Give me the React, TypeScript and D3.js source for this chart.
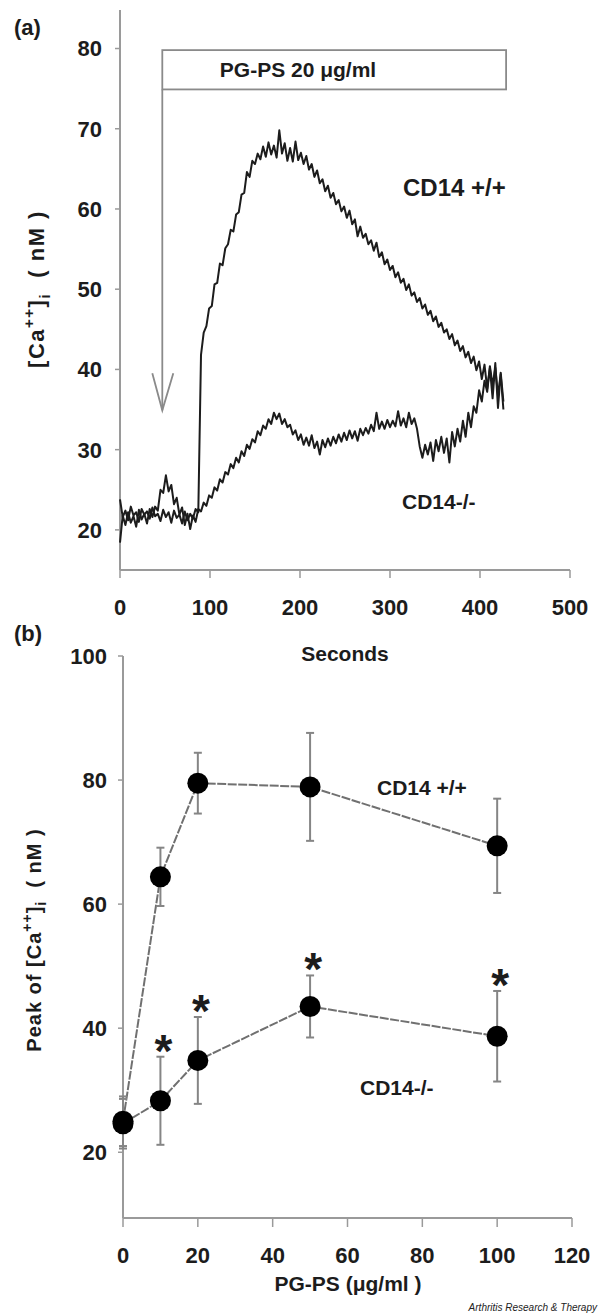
import React from "react";
import * as d3 from "d3";

// ---------- Panel (a): time course, sampled every SAMPLE_STEP seconds ----------
const SAMPLE_STEP = 3;

const wildTypeTrace = [
  23.8, 21.6, 22.4, 21.2, 22.9, 21.8, 22.2, 21.0, 22.6, 21.9,
  22.3, 21.4, 22.8, 21.7, 22.0, 21.1, 22.5, 21.6, 22.2, 20.9,
  22.4, 21.5, 21.9, 20.8, 22.3, 21.2, 22.0, 21.4, 22.6, 22.2,
  41.8, 44.6, 45.4, 47.6, 47.9, 50.6, 50.8, 53.2, 53.0, 55.1,
  55.6, 57.4, 57.2, 59.3, 59.6, 61.8, 62.0, 64.6, 64.0, 66.0,
  65.6, 66.9, 66.2, 67.8, 66.5, 68.3, 66.8, 67.9, 66.4, 69.8,
  66.9, 68.2, 66.0, 67.6, 65.9, 68.4, 66.1, 67.0, 65.6, 66.6,
  64.9, 65.6, 64.0, 64.8, 63.2, 63.7, 62.2, 62.9, 61.4, 62.0,
  60.6, 61.1, 59.7, 60.3, 58.9, 59.8, 58.1, 58.7, 56.6, 57.8,
  56.4, 56.9, 55.6, 56.1, 54.8, 55.8, 54.0, 54.6, 53.1, 53.7,
  52.4, 52.9, 51.5, 52.1, 50.8, 51.3, 49.9, 50.6, 49.2, 49.6,
  48.4, 48.9, 47.6, 48.1, 46.8, 47.3, 46.0, 46.6, 45.3, 45.8,
  44.6, 45.0, 43.8, 44.4, 43.0, 43.6, 42.3, 42.9, 41.5, 42.2,
  40.8, 41.6, 39.9, 41.0, 38.8, 40.6, 37.6, 40.2, 36.4, 40.8,
  35.2, 39.6, 36.0,
];

const knockoutTrace = [
  18.4, 21.8, 20.6, 22.2, 20.9, 21.7, 20.4, 22.5, 21.3, 22.0,
  20.8, 22.6, 21.6, 22.9, 22.4, 25.0, 24.6, 26.8, 24.8, 25.6,
  23.2, 24.0, 21.9, 22.8, 20.6, 22.0, 20.1, 21.8, 21.0, 22.6,
  22.3, 23.4, 23.0, 24.3, 24.0, 25.3, 24.9, 26.3, 25.9, 27.2,
  26.9, 28.2, 27.7, 29.0, 28.4, 29.8, 29.2, 30.6, 30.1, 31.3,
  30.9, 32.3, 31.8, 33.0, 32.6, 33.8, 33.2, 34.6, 33.8, 34.5,
  33.2, 33.8, 32.8, 33.1, 31.9, 32.4, 31.2, 31.9, 30.6, 31.5,
  30.5, 31.8, 30.2, 31.0, 29.4, 31.2, 30.3, 31.4, 30.5, 31.6,
  30.8, 31.9, 31.0, 32.1, 31.2, 32.4, 31.4, 32.3, 31.1, 32.6,
  31.8, 32.7, 32.0, 33.1, 32.3, 34.6, 32.6, 33.5, 32.6, 33.7,
  32.8, 33.6, 32.9, 34.8, 33.0, 33.9, 32.8, 34.6, 33.2, 33.9,
  32.6, 30.4, 29.0, 30.6, 29.4, 30.9, 28.6, 31.2, 29.8, 31.6,
  29.6, 31.4, 28.4, 32.2, 30.4, 32.6, 31.0, 33.6, 31.6, 34.6,
  32.8, 35.4, 34.6, 37.4, 36.0, 38.6, 37.2, 40.4, 38.0, 40.2,
  36.8, 39.4, 35.0,
];

const xTicksA = [0, 100, 200, 300, 400, 500];
const yTicksA = [20, 30, 40, 50, 60, 70, 80];

// stimulus annotation (seconds / nM)
const stimStart = 47;
const stimEnd = 429;
const stimBoxTop = 79.8;
const stimBoxBottom = 74.9;
const arrowTip = 34.9;

// ---------- Panel (b): dose response ----------
const doses = [0, 10, 20, 50, 100];
const wtPeak = [25, 64.4, 79.5, 78.9, 69.4];
const wtErr = [4, 4.7, 4.9, 8.7, 7.6];
const koPeak = [24.6, 28.3, 34.8, 43.5, 38.7];
const koErr = [4, 7.1, 7.0, 5.0, 7.3];
const koSignificant = [false, true, true, true, true];
const xTicksB = [0, 20, 40, 60, 80, 100, 120];
const yTicksB = [20, 40, 60, 80, 100];

const FONT = "'Liberation Sans', Arial, Helvetica, sans-serif";
const INK = "#1c1c1c";
const AXIS = "#9a9a9a";

export default function App() {
  const xA = d3.scaleLinear().domain([0, 500]).range([120, 570]);
  const yA = d3.scaleLinear().domain([15, 84.8]).range([570, 10]);
  const xB = d3.scaleLinear().domain([0, 120]).range([123, 572]);
  const yB = d3.scaleLinear().domain([9.4, 100]).range([1218, 656]);

  const traceLine = d3
    .line<number>()
    .x((_, i) => xA(i * SAMPLE_STEP))
    .y((v) => yA(v));

  const wtPts = doses.map((d, i) => [d, wtPeak[i]] as [number, number]);
  const koPts = doses.map((d, i) => [d, koPeak[i]] as [number, number]);
  const doseLine = d3
    .line<[number, number]>()
    .x((p) => xB(p[0]))
    .y((p) => yB(p[1]));

  const txt = {
    fontFamily: FONT,
    fontWeight: 700,
    fontSize: 22,
    fill: INK,
  } as const;

  return (
    <svg
      width={600}
      height={1316}
      viewBox="0 0 600 1316"
      style={{ position: "absolute", left: 0, top: 0, display: "block", background: "#fff" }}
    >
      <rect x={0} y={0} width={600} height={1316} fill="#fff" />

      {/* ================= Panel (a) ================= */}
      <text x={14} y={35} {...txt} fontSize={22}>
        (a)
      </text>

      {/* axes */}
      <line x1={xA(0)} x2={xA(0)} y1={yA(84.8)} y2={yA(15)} stroke={AXIS} strokeWidth={2} />
      <line x1={xA(0)} x2={xA(500)} y1={yA(15)} y2={yA(15)} stroke={AXIS} strokeWidth={2} />
      {yTicksA.map((t) => (
        <g key={"ya" + t}>
          <line x1={xA(0) - 5} x2={xA(0)} y1={yA(t)} y2={yA(t)} stroke={AXIS} strokeWidth={1.5} />
          <text x={102} y={yA(t)} dy="0.36em" textAnchor="end" {...txt}>
            {t}
          </text>
        </g>
      ))}
      {xTicksA.map((t) => (
        <g key={"xa" + t}>
          <line x1={xA(t)} x2={xA(t)} y1={yA(15)} y2={yA(15) + 8} stroke={AXIS} strokeWidth={1.5} />
          <text x={xA(t)} y={615} textAnchor="middle" {...txt}>
            {t}
          </text>
        </g>
      ))}
      <text x={345} y={661} textAnchor="middle" {...txt} fontSize={21}>
        Seconds
      </text>

      {/* y label (a) */}
      <text
        transform="translate(44,289) rotate(-90)"
        textAnchor="middle"
        {...txt}
        fontSize={22}
        letterSpacing={1.5}
      >
        [Ca
        <tspan fontSize={15} dy={-10}>
          ++
        </tspan>
        <tspan dy={10}>]</tspan>
        <tspan fontSize={15} dy={6}>
          i
        </tspan>
        <tspan dy={-6}>{"\u00a0\u00a0(\u00a0nM\u00a0)"}</tspan>
      </text>

      {/* stimulus box and arrow */}
      <rect
        x={xA(stimStart)}
        y={yA(stimBoxTop)}
        width={xA(stimEnd) - xA(stimStart)}
        height={yA(stimBoxBottom) - yA(stimBoxTop)}
        fill="#fff"
        stroke="#8a8a8a"
        strokeWidth={1.8}
      />
      <text
        x={298}
        y={yA((stimBoxTop + stimBoxBottom) / 2)}
        dy="0.36em"
        textAnchor="middle"
        {...txt}
        fontSize={21}
      >
        PG-PS 20 μg/ml
      </text>
      <line
        x1={xA(stimStart)}
        x2={xA(stimStart)}
        y1={yA(stimBoxBottom)}
        y2={yA(arrowTip)}
        stroke="#8a8a8a"
        strokeWidth={1.8}
      />
      <polyline
        points={`${xA(stimStart) - 10},${yA(arrowTip) - 37} ${xA(stimStart)},${yA(arrowTip)} ${xA(stimStart) + 11},${yA(arrowTip) - 37}`}
        fill="none"
        stroke="#8a8a8a"
        strokeWidth={1.8}
      />

      {/* traces */}
      <path d={traceLine(knockoutTrace) || ""} fill="none" stroke={INK} strokeWidth={2} strokeLinejoin="round" />
      <path d={traceLine(wildTypeTrace) || ""} fill="none" stroke={INK} strokeWidth={2} strokeLinejoin="round" />

      <text x={403} y={196} {...txt} fontSize={24}>
        CD14 +/+
      </text>
      <text x={402} y={509} {...txt} fontSize={21}>
        CD14-/-
      </text>

      {/* ================= Panel (b) ================= */}
      <text x={14} y={641} {...txt} fontSize={22}>
        (b)
      </text>

      <line x1={xB(0)} x2={xB(0)} y1={yB(100)} y2={yB(9.4)} stroke={AXIS} strokeWidth={2} />
      <line x1={xB(0)} x2={xB(120)} y1={yB(9.4)} y2={yB(9.4)} stroke={AXIS} strokeWidth={2} />
      {yTicksB.map((t) => (
        <g key={"yb" + t}>
          <line x1={xB(0) - 5} x2={xB(0)} y1={yB(t)} y2={yB(t)} stroke={AXIS} strokeWidth={1.5} />
          <text x={107} y={yB(t)} dy="0.36em" textAnchor="end" {...txt}>
            {t}
          </text>
        </g>
      ))}
      {xTicksB.map((t) => (
        <g key={"xb" + t}>
          <line x1={xB(t)} x2={xB(t)} y1={yB(9.4)} y2={yB(9.4) + 9} stroke={AXIS} strokeWidth={1.5} />
          <text x={xB(t)} y={1263} textAnchor="middle" {...txt}>
            {t}
          </text>
        </g>
      ))}
      <text x={348} y={1291} textAnchor="middle" {...txt} fontSize={21}>
        PG-PS (μg/ml )
      </text>

      {/* y label (b) */}
      <text
        transform="translate(41,940) rotate(-90)"
        textAnchor="middle"
        {...txt}
        fontSize={20}
        letterSpacing={1}
      >
        Peak of [Ca
        <tspan fontSize={14} dy={-9}>
          ++
        </tspan>
        <tspan dy={9}>]</tspan>
        <tspan fontSize={14} dy={5}>
          i
        </tspan>
        <tspan dy={-5}>{"\u00a0\u00a0(\u00a0nM\u00a0)"}</tspan>
      </text>

      {/* connecting lines */}
      <path d={doseLine(wtPts) || ""} fill="none" stroke="#707070" strokeWidth={2} strokeDasharray="9 1.5" />
      <path d={doseLine(koPts) || ""} fill="none" stroke="#707070" strokeWidth={2} strokeDasharray="9 1.5" />

      {/* error bars */}
      {doses.map((d, i) => (
        <g key={"eb" + d} stroke="#858585" strokeWidth={2}>
          <line x1={xB(d)} x2={xB(d)} y1={yB(wtPeak[i] + wtErr[i])} y2={yB(wtPeak[i] - wtErr[i])} />
          <line x1={xB(d) - 4} x2={xB(d) + 4} y1={yB(wtPeak[i] + wtErr[i])} y2={yB(wtPeak[i] + wtErr[i])} />
          <line x1={xB(d) - 4} x2={xB(d) + 4} y1={yB(wtPeak[i] - wtErr[i])} y2={yB(wtPeak[i] - wtErr[i])} />
          <line x1={xB(d)} x2={xB(d)} y1={yB(koPeak[i] + koErr[i])} y2={yB(koPeak[i] - koErr[i])} />
          <line x1={xB(d) - 4} x2={xB(d) + 4} y1={yB(koPeak[i] + koErr[i])} y2={yB(koPeak[i] + koErr[i])} />
          <line x1={xB(d) - 4} x2={xB(d) + 4} y1={yB(koPeak[i] - koErr[i])} y2={yB(koPeak[i] - koErr[i])} />
        </g>
      ))}

      {/* markers */}
      {doses.map((d, i) => (
        <g key={"m" + d}>
          <circle cx={xB(d)} cy={yB(wtPeak[i])} r={10.5} fill="#000" />
          <circle cx={xB(d)} cy={yB(koPeak[i])} r={10.5} fill="#000" />
        </g>
      ))}

      {/* significance asterisks */}
      {doses.map((d, i) =>
        koSignificant[i] ? (
          <text
            key={"s" + d}
            x={xB(d) + 3}
            y={yB(koPeak[i] + koErr[i]) + 10}
            textAnchor="middle"
            fontFamily={FONT}
            fontWeight={700}
            fontSize={46}
            fill={INK}
          >
            *
          </text>
        ) : null
      )}

      <text x={377} y={795} {...txt} fontSize={21}>
        CD14 +/+
      </text>
      <text x={360} y={1095} {...txt} fontSize={21}>
        CD14-/-
      </text>

      <text
        x={597}
        y={1311}
        textAnchor="end"
        fontFamily={FONT}
        fontStyle="italic"
        fontSize={10}
        fill="#222"
      >
        Arthritis Research &amp; Therapy
      </text>
    </svg>
  );
}
